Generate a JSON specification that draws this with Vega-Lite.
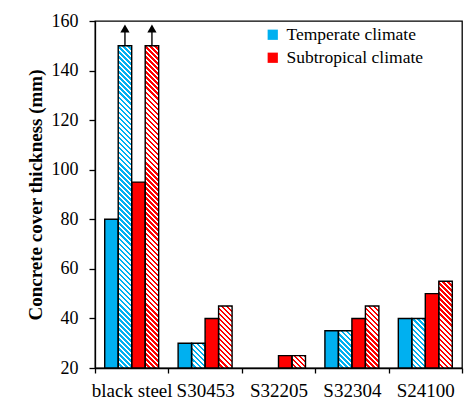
{
"$schema":"https://vega.github.io/schema/vega-lite/v6.json",
"width":367,"height":347,
"autosize":"none",
"padding":{"left":95,"top":21,"right":12,"bottom":33},
"background":"white",
"config":{"font":"Liberation Serif","view":{"stroke":"black","strokeWidth":1.3},
"axis":{"grid":false,"domainColor":"black","tickColor":"black","labelColor":"black","titleColor":"black","domainWidth":1.3,"tickWidth":1.3,"labelFont":"Liberation Serif","titleFont":"Liberation Serif"},
"legend":{"labelFont":"Liberation Serif"}},
"data":{"values":[
{"steel":"black steel","climate":"Temperate climate","hatch":"solid","series":"T-solid","value":80},
{"steel":"black steel","climate":"Temperate climate","hatch":"hatched","series":"T-hatched","value":150},
{"steel":"black steel","climate":"Subtropical climate","hatch":"solid","series":"S-solid","value":95},
{"steel":"black steel","climate":"Subtropical climate","hatch":"hatched","series":"S-hatched","value":150},
{"steel":"S30453","climate":"Temperate climate","hatch":"solid","series":"T-solid","value":30},
{"steel":"S30453","climate":"Temperate climate","hatch":"hatched","series":"T-hatched","value":30},
{"steel":"S30453","climate":"Subtropical climate","hatch":"solid","series":"S-solid","value":40},
{"steel":"S30453","climate":"Subtropical climate","hatch":"hatched","series":"S-hatched","value":45},
{"steel":"S32205","climate":"Temperate climate","hatch":"solid","series":"T-solid","value":null},
{"steel":"S32205","climate":"Temperate climate","hatch":"hatched","series":"T-hatched","value":null},
{"steel":"S32205","climate":"Subtropical climate","hatch":"solid","series":"S-solid","value":25},
{"steel":"S32205","climate":"Subtropical climate","hatch":"hatched","series":"S-hatched","value":25},
{"steel":"S32304","climate":"Temperate climate","hatch":"solid","series":"T-solid","value":35},
{"steel":"S32304","climate":"Temperate climate","hatch":"hatched","series":"T-hatched","value":35},
{"steel":"S32304","climate":"Subtropical climate","hatch":"solid","series":"S-solid","value":40},
{"steel":"S32304","climate":"Subtropical climate","hatch":"hatched","series":"S-hatched","value":45},
{"steel":"S24100","climate":"Temperate climate","hatch":"solid","series":"T-solid","value":40},
{"steel":"S24100","climate":"Temperate climate","hatch":"hatched","series":"T-hatched","value":40},
{"steel":"S24100","climate":"Subtropical climate","hatch":"solid","series":"S-solid","value":50},
{"steel":"S24100","climate":"Subtropical climate","hatch":"hatched","series":"S-hatched","value":55}
]},
"encoding":{
"x":{"field":"steel","type":"nominal","sort":["black steel","S30453","S32205","S32304","S24100"],"scale":{"paddingInner":0,"paddingOuter":0},
"axis":{"title":null,"labelAngle":0,"tickBand":"extent","labelFont":"Liberation Serif","labelFontSize":19,"tickSize":5,"labelPadding":8}},
"xOffset":{"field":"series","type":"nominal","scale":{"domain":["T-solid","T-hatched","S-solid","S-hatched"],"paddingInner":0,"paddingOuter":0.72}}
},
"layer":[
{"transform":[{"filter":"datum.value != null"}],
"mark":{"type":"bar","strokeWidth":0},
"encoding":{
"y":{"field":"value","type":"quantitative","scale":{"domain":[20,160],"nice":false,"zero":false},
"axis":{"title":"Concrete cover thickness (mm)","values":[20,30,40,50,60,70,80,90,100,110,120,130,140,150,160],
"labelExpr":"datum.value % 20 === 0 ? datum.label : ''",
"tickSize":{"condition":{"test":"datum.value % 20 === 0","value":6},"value":4},
"labelFont":"Liberation Serif","titleFont":"Liberation Serif",
"labelPadding":11,"labelFontSize":18,"titleFontSize":19,"titleFontWeight":"bold","titlePadding":6}},
"y2":{"datum":20},
"color":{"field":"climate","type":"nominal","scale":{"domain":["Temperate climate","Subtropical climate"],"range":["#00B0F0","#FF0000"]},
"legend":{"title":null,"orient":"none","legendX":169,"legendY":5,"symbolType":"square","symbolSize":105,"symbolStrokeWidth":0,"symbolOpacity":1,"labelFont":"Liberation Serif","labelFontSize":17.5,"labelColor":"black","labelOffset":5,"rowPadding":4,"zindex":1}}
}},
{"transform":[{"filter":"datum.hatch === 'hatched' && datum.value != null"}],
"mark":{"type":"bar","strokeWidth":0,"fill":{"gradient":"linear","x1":1,"y1":0,"x2":0.95645,"y2":1.04005,"stops":[
{"offset":0,"color":"#fff"},
{"offset":0.0075,"color":"#fff"},{"offset":0.0075,"color":"#fff0"},{"offset":0.015,"color":"#fff0"},{"offset":0.015,"color":"#fff"},
{"offset":0.0225,"color":"#fff"},{"offset":0.0225,"color":"#fff0"},{"offset":0.03,"color":"#fff0"},{"offset":0.03,"color":"#fff"},
{"offset":0.0375,"color":"#fff"},{"offset":0.0375,"color":"#fff0"},{"offset":0.045,"color":"#fff0"},{"offset":0.045,"color":"#fff"},
{"offset":0.0525,"color":"#fff"},{"offset":0.0525,"color":"#fff0"},{"offset":0.06,"color":"#fff0"},{"offset":0.06,"color":"#fff"},
{"offset":0.0675,"color":"#fff"},{"offset":0.0675,"color":"#fff0"},{"offset":0.075,"color":"#fff0"},{"offset":0.075,"color":"#fff"},
{"offset":0.0825,"color":"#fff"},{"offset":0.0825,"color":"#fff0"},{"offset":0.09,"color":"#fff0"},{"offset":0.09,"color":"#fff"},
{"offset":0.0975,"color":"#fff"},{"offset":0.0975,"color":"#fff0"},{"offset":0.105,"color":"#fff0"},{"offset":0.105,"color":"#fff"},
{"offset":0.1125,"color":"#fff"},{"offset":0.1125,"color":"#fff0"},{"offset":0.12,"color":"#fff0"},{"offset":0.12,"color":"#fff"},
{"offset":0.1275,"color":"#fff"},{"offset":0.1275,"color":"#fff0"},{"offset":0.135,"color":"#fff0"},{"offset":0.135,"color":"#fff"},
{"offset":0.1425,"color":"#fff"},{"offset":0.1425,"color":"#fff0"},{"offset":0.15,"color":"#fff0"},{"offset":0.15,"color":"#fff"},
{"offset":0.1575,"color":"#fff"},{"offset":0.1575,"color":"#fff0"},{"offset":0.165,"color":"#fff0"},{"offset":0.165,"color":"#fff"},
{"offset":0.1725,"color":"#fff"},{"offset":0.1725,"color":"#fff0"},{"offset":0.18,"color":"#fff0"},{"offset":0.18,"color":"#fff"},
{"offset":0.1875,"color":"#fff"},{"offset":0.1875,"color":"#fff0"},{"offset":0.195,"color":"#fff0"},{"offset":0.195,"color":"#fff"},
{"offset":0.2025,"color":"#fff"},{"offset":0.2025,"color":"#fff0"},{"offset":0.21,"color":"#fff0"},{"offset":0.21,"color":"#fff"},
{"offset":0.2175,"color":"#fff"},{"offset":0.2175,"color":"#fff0"},{"offset":0.225,"color":"#fff0"},{"offset":0.225,"color":"#fff"},
{"offset":0.2325,"color":"#fff"},{"offset":0.2325,"color":"#fff0"},{"offset":0.24,"color":"#fff0"},{"offset":0.24,"color":"#fff"},
{"offset":0.2475,"color":"#fff"},{"offset":0.2475,"color":"#fff0"},{"offset":0.255,"color":"#fff0"},{"offset":0.255,"color":"#fff"},
{"offset":0.2625,"color":"#fff"},{"offset":0.2625,"color":"#fff0"},{"offset":0.27,"color":"#fff0"},{"offset":0.27,"color":"#fff"},
{"offset":0.2775,"color":"#fff"},{"offset":0.2775,"color":"#fff0"},{"offset":0.285,"color":"#fff0"},{"offset":0.285,"color":"#fff"},
{"offset":0.2925,"color":"#fff"},{"offset":0.2925,"color":"#fff0"},{"offset":0.3,"color":"#fff0"},{"offset":0.3,"color":"#fff"},
{"offset":0.3075,"color":"#fff"},{"offset":0.3075,"color":"#fff0"},{"offset":0.315,"color":"#fff0"},{"offset":0.315,"color":"#fff"},
{"offset":0.3225,"color":"#fff"},{"offset":0.3225,"color":"#fff0"},{"offset":0.33,"color":"#fff0"},{"offset":0.33,"color":"#fff"},
{"offset":0.3375,"color":"#fff"},{"offset":0.3375,"color":"#fff0"},{"offset":0.345,"color":"#fff0"},{"offset":0.345,"color":"#fff"},
{"offset":0.3525,"color":"#fff"},{"offset":0.3525,"color":"#fff0"},{"offset":0.36,"color":"#fff0"},{"offset":0.36,"color":"#fff"},
{"offset":0.3675,"color":"#fff"},{"offset":0.3675,"color":"#fff0"},{"offset":0.375,"color":"#fff0"},{"offset":0.375,"color":"#fff"},
{"offset":0.3825,"color":"#fff"},{"offset":0.3825,"color":"#fff0"},{"offset":0.39,"color":"#fff0"},{"offset":0.39,"color":"#fff"},
{"offset":0.3975,"color":"#fff"},{"offset":0.3975,"color":"#fff0"},{"offset":0.405,"color":"#fff0"},{"offset":0.405,"color":"#fff"},
{"offset":0.4125,"color":"#fff"},{"offset":0.4125,"color":"#fff0"},{"offset":0.42,"color":"#fff0"},{"offset":0.42,"color":"#fff"},
{"offset":0.4275,"color":"#fff"},{"offset":0.4275,"color":"#fff0"},{"offset":0.435,"color":"#fff0"},{"offset":0.435,"color":"#fff"},
{"offset":0.4425,"color":"#fff"},{"offset":0.4425,"color":"#fff0"},{"offset":0.45,"color":"#fff0"},{"offset":0.45,"color":"#fff"},
{"offset":0.4575,"color":"#fff"},{"offset":0.4575,"color":"#fff0"},{"offset":0.465,"color":"#fff0"},{"offset":0.465,"color":"#fff"},
{"offset":0.4725,"color":"#fff"},{"offset":0.4725,"color":"#fff0"},{"offset":0.48,"color":"#fff0"},{"offset":0.48,"color":"#fff"},
{"offset":0.4875,"color":"#fff"},{"offset":0.4875,"color":"#fff0"},{"offset":0.495,"color":"#fff0"},{"offset":0.495,"color":"#fff"},
{"offset":0.5025,"color":"#fff"},{"offset":0.5025,"color":"#fff0"},{"offset":0.51,"color":"#fff0"},{"offset":0.51,"color":"#fff"},
{"offset":0.5175,"color":"#fff"},{"offset":0.5175,"color":"#fff0"},{"offset":0.525,"color":"#fff0"},{"offset":0.525,"color":"#fff"},
{"offset":0.5325,"color":"#fff"},{"offset":0.5325,"color":"#fff0"},{"offset":0.54,"color":"#fff0"},{"offset":0.54,"color":"#fff"},
{"offset":0.5475,"color":"#fff"},{"offset":0.5475,"color":"#fff0"},{"offset":0.555,"color":"#fff0"},{"offset":0.555,"color":"#fff"},
{"offset":0.5625,"color":"#fff"},{"offset":0.5625,"color":"#fff0"},{"offset":0.57,"color":"#fff0"},{"offset":0.57,"color":"#fff"},
{"offset":0.5775,"color":"#fff"},{"offset":0.5775,"color":"#fff0"},{"offset":0.585,"color":"#fff0"},{"offset":0.585,"color":"#fff"},
{"offset":0.5925,"color":"#fff"},{"offset":0.5925,"color":"#fff0"},{"offset":0.6,"color":"#fff0"},{"offset":0.6,"color":"#fff"},
{"offset":0.6075,"color":"#fff"},{"offset":0.6075,"color":"#fff0"},{"offset":0.615,"color":"#fff0"},{"offset":0.615,"color":"#fff"},
{"offset":0.6225,"color":"#fff"},{"offset":0.6225,"color":"#fff0"},{"offset":0.63,"color":"#fff0"},{"offset":0.63,"color":"#fff"},
{"offset":0.6375,"color":"#fff"},{"offset":0.6375,"color":"#fff0"},{"offset":0.645,"color":"#fff0"},{"offset":0.645,"color":"#fff"},
{"offset":0.6525,"color":"#fff"},{"offset":0.6525,"color":"#fff0"},{"offset":0.66,"color":"#fff0"},{"offset":0.66,"color":"#fff"},
{"offset":0.6675,"color":"#fff"},{"offset":0.6675,"color":"#fff0"},{"offset":0.675,"color":"#fff0"},{"offset":0.675,"color":"#fff"},
{"offset":0.6825,"color":"#fff"},{"offset":0.6825,"color":"#fff0"},{"offset":0.69,"color":"#fff0"},{"offset":0.69,"color":"#fff"},
{"offset":0.6975,"color":"#fff"},{"offset":0.6975,"color":"#fff0"},{"offset":0.705,"color":"#fff0"},{"offset":0.705,"color":"#fff"},
{"offset":0.7125,"color":"#fff"},{"offset":0.7125,"color":"#fff0"},{"offset":0.72,"color":"#fff0"},{"offset":0.72,"color":"#fff"},
{"offset":0.7275,"color":"#fff"},{"offset":0.7275,"color":"#fff0"},{"offset":0.735,"color":"#fff0"},{"offset":0.735,"color":"#fff"},
{"offset":0.7425,"color":"#fff"},{"offset":0.7425,"color":"#fff0"},{"offset":0.75,"color":"#fff0"},{"offset":0.75,"color":"#fff"},
{"offset":0.7575,"color":"#fff"},{"offset":0.7575,"color":"#fff0"},{"offset":0.765,"color":"#fff0"},{"offset":0.765,"color":"#fff"},
{"offset":0.7725,"color":"#fff"},{"offset":0.7725,"color":"#fff0"},{"offset":0.78,"color":"#fff0"},{"offset":0.78,"color":"#fff"},
{"offset":0.7875,"color":"#fff"},{"offset":0.7875,"color":"#fff0"},{"offset":0.795,"color":"#fff0"},{"offset":0.795,"color":"#fff"},
{"offset":0.8025,"color":"#fff"},{"offset":0.8025,"color":"#fff0"},{"offset":0.81,"color":"#fff0"},{"offset":0.81,"color":"#fff"},
{"offset":0.8175,"color":"#fff"},{"offset":0.8175,"color":"#fff0"},{"offset":0.825,"color":"#fff0"},{"offset":0.825,"color":"#fff"},
{"offset":0.8325,"color":"#fff"},{"offset":0.8325,"color":"#fff0"},{"offset":0.84,"color":"#fff0"},{"offset":0.84,"color":"#fff"},
{"offset":0.8475,"color":"#fff"},{"offset":0.8475,"color":"#fff0"},{"offset":0.855,"color":"#fff0"},{"offset":0.855,"color":"#fff"},
{"offset":0.8625,"color":"#fff"},{"offset":0.8625,"color":"#fff0"},{"offset":0.87,"color":"#fff0"},{"offset":0.87,"color":"#fff"},
{"offset":0.8775,"color":"#fff"},{"offset":0.8775,"color":"#fff0"},{"offset":0.885,"color":"#fff0"},{"offset":0.885,"color":"#fff"},
{"offset":0.8925,"color":"#fff"},{"offset":0.8925,"color":"#fff0"},{"offset":0.9,"color":"#fff0"},{"offset":0.9,"color":"#fff"},
{"offset":0.9075,"color":"#fff"},{"offset":0.9075,"color":"#fff0"},{"offset":0.915,"color":"#fff0"},{"offset":0.915,"color":"#fff"},
{"offset":0.9225,"color":"#fff"},{"offset":0.9225,"color":"#fff0"},{"offset":0.93,"color":"#fff0"},{"offset":0.93,"color":"#fff"},
{"offset":0.9375,"color":"#fff"},{"offset":0.9375,"color":"#fff0"},{"offset":0.945,"color":"#fff0"},{"offset":0.945,"color":"#fff"},
{"offset":0.9525,"color":"#fff"},{"offset":0.9525,"color":"#fff0"},{"offset":0.96,"color":"#fff0"},{"offset":0.96,"color":"#fff"},
{"offset":0.9675,"color":"#fff"},{"offset":0.9675,"color":"#fff0"},{"offset":0.975,"color":"#fff0"},{"offset":0.975,"color":"#fff"},
{"offset":0.9825,"color":"#fff"},{"offset":0.9825,"color":"#fff0"},{"offset":0.99,"color":"#fff0"},{"offset":0.99,"color":"#fff"},
{"offset":0.9975,"color":"#fff"},{"offset":0.9975,"color":"#fff0"},{"offset":1,"color":"#fff0"}
]}},
"encoding":{"y":{"datum":20},"y2":{"datum":150}}},
{"transform":[{"filter":"datum.value != null"}],
"mark":{"type":"bar","fillOpacity":0,"stroke":"black","strokeWidth":1.4},
"encoding":{"y":{"field":"value","type":"quantitative"},"y2":{"datum":20}}},
{"transform":[{"filter":"datum.value >= 150"}],
"mark":{"type":"rule","color":"black","strokeWidth":1.4},
"encoding":{"y":{"field":"value","type":"quantitative"},"y2":{"datum":156.3}}},
{"transform":[{"filter":"datum.value >= 150"}],
"mark":{"type":"point","shape":"triangle-up","filled":true,"color":"black","size":85,"opacity":1,"strokeWidth":0},
"encoding":{"y":{"datum":157}}}
]
}
